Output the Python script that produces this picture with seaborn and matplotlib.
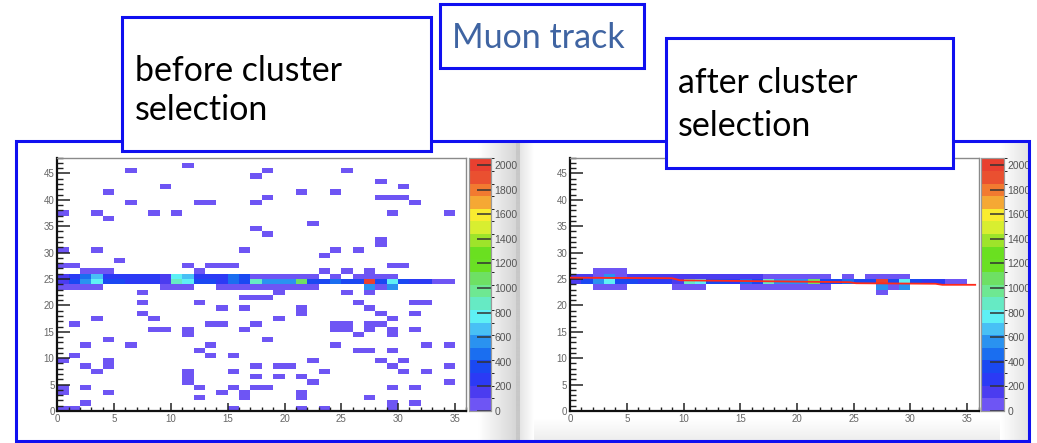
import numpy as np
import pandas as pd
import matplotlib
matplotlib.use("Agg")
import matplotlib.pyplot as plt
import seaborn as sns
from matplotlib.colors import ListedColormap, BoundaryNorm
from matplotlib.patches import Rectangle

# ---------------- data ----------------
NX, NY = 36, 48
ZMAX = 2055
X_TICKS = [0, 5, 10, 15, 20, 25, 30, 35]
Y_TICKS = [0, 5, 10, 15, 20, 25, 30, 35, 40, 45]
Z_TICKS = [0, 200, 400, 600, 800, 1000, 1200, 1400, 1600, 1800, 2000]

LEFT_NOISE_X = [6, 11, 17, 18, 4, 9, 6, 12, 13, 17, 18, 0, 3, 4, 8, 10, 17, 18, 0, 3, 16, 5, 0, 1, 11, 13, 14, 15, 2, 3, 4, 12,
                25, 28, 30, 21, 24, 28, 29, 30, 31, 22, 29, 34, 28, 28, 24, 26, 23, 29, 30, 23, 25, 27,
                7, 19, 25, 27,
                7, 7, 8, 8, 9, 11, 11, 12, 14, 16, 16, 17, 18, 13, 14, 16, 17, 1, 3, 4, 2, 6, 1, 0, 4, 4, 2, 3, 0, 0, 2, 4, 2, 0, 1,
                11, 11, 11, 12, 13, 13, 15, 12, 12, 14, 15, 16, 16, 15, 17, 17, 17, 15, 18,
                26, 27, 28, 31, 32, 31, 21, 21, 19, 29, 24, 25, 24, 25, 27, 28, 27, 26, 29, 29, 31, 24, 26, 27, 29, 32, 34,
                22, 28, 30, 19, 20, 29, 34, 23, 30, 32, 19, 21, 22, 34, 18, 29, 31, 21, 21, 27, 31, 21, 23, 29, 29]
LEFT_NOISE_Y = [45, 46, 44, 45, 41, 42, 39, 39, 39, 39, 40, 37, 37, 36, 37, 37, 34, 33, 30, 30, 30, 28, 27, 27, 27, 27, 27, 27, 26, 26, 26, 26,
                45, 43, 42, 41, 41, 40, 40, 40, 39, 35, 37, 37, 31, 32, 30, 30, 29, 27, 27, 26, 26, 26,
                22, 22, 22, 22,
                20, 18, 17, 15, 15, 15, 14, 20, 19, 19, 21, 21, 21, 16, 16, 15, 16, 16, 17, 13, 12, 12, 10, 9, 9, 8, 8, 7, 4, 3, 4, 3, 1, 0, 0,
                7, 6, 5, 11, 12, 10, 10, 4, 2, 3, 4, 3, 2, 7, 8, 6, 4, 0, 13,
                20, 19, 18, 20, 20, 18, 19, 18, 17, 17, 16, 16, 15, 15, 16, 16, 15, 14, 15, 14, 15, 12, 11, 11, 11, 12, 12,
                9, 9, 9, 8, 8, 8, 8, 7, 7, 7, 6, 6, 5, 5, 4, 4, 4, 3, 2, 2, 1, 0, 0, 1, 0]
NOISE_CHARGE = 50

# track row (y bin 24), shared by both pictures
ROW24 = [150, 350, 560, 750, 330, 320, 250, 260, 240, 180, 850, 760, 340, 350, 280, 450, 380, 860,
         580, 560, 570, 1050, 400, 380, 430, 390, 370, 2050, 400, 780, 380, 270, 260, 80, 80, 0]
LEFT_ROW25 = [120, 250, 500, 700, 300, 300, 220, 220, 220, 160, 780, 700, 300, 300, 250, 420, 350, 60,
              60, 60, 60, 60, 60, 0, 60, 0, 60, 60, 60, 60, 0, 0, 0, 0, 0, 0]
LEFT_ROW23 = [60, 60, 60, 60, 0, 0, 0, 0, 0, 60, 60, 60, 0, 0, 60, 60, 60, 60,
              60, 60, 60, 60, 60, 0, 0, 0, 0, 560, 60, 600, 0, 0, 0, 0, 0, 0]
RIGHT_ROW26 = [0, 0, 60, 60, 60, 0, 0, 0, 0, 0, 0, 0, 0, 0, 0, 0, 0, 0,
               0, 0, 0, 0, 0, 0, 0, 0, 0, 0, 0, 0, 0, 0, 0, 0, 0, 0]
RIGHT_ROW25 = [150, 150, 60, 600, 60, 150, 150, 150, 150, 150, 150, 150, 150, 150, 150, 150, 150, 60,
               60, 60, 60, 60, 60, 0, 60, 0, 60, 60, 60, 60, 0, 0, 0, 0, 0, 0]
RIGHT_ROW23 = [0, 0, 60, 60, 60, 0, 0, 0, 0, 60, 60, 60, 0, 0, 0, 60, 60, 60,
               60, 60, 60, 60, 60, 0, 0, 0, 0, 560, 60, 600, 0, 0, 0, 0, 0, 0]
RIGHT_ROW22 = [0, 0, 0, 0, 0, 0, 0, 0, 0, 0, 0, 0, 0, 0, 0, 0, 0, 0,
               0, 0, 0, 0, 0, 0, 0, 0, 0, 60, 0, 0, 0, 0, 0, 0, 0, 0]

# fitted track (red line)
FIT_X = [0, 9.0, 9.7, 24.6, 25.2, 32.2, 32.8, 35.7]
FIT_Y = [25.25, 25.15, 24.75, 24.4, 24.2, 24.1, 23.9, 23.9]

PALETTE = ['#6e55f4', '#4b3cf0', '#2b3af5', '#1a48f2', '#1a6ef0', '#2a92f0', '#48c0f5', '#5ef0f5',
           '#66eac4', '#6ee892', '#6ee064', '#6ae024', '#6ae020', '#9ee42a', '#d8ee30', '#f9ec30',
           '#f5a834', '#f27a30', '#ea5030', '#e84030']

# ---------------- figure ----------------
W, H = 1037, 443
fig = plt.figure(figsize=(W / 100, H / 100), dpi=100)
fig.patch.set_facecolor('white')


def fax(x0, y0, x1, y1):
    return [x0 / W, 1 - y1 / H, (x1 - x0) / W, (y1 - y0) / H]


# background gradients (screenshot panels)
bg = fig.add_axes([0, 0, 1, 1], zorder=0)
bg.set_xlim(0, W)
bg.set_ylim(H, 0)
bg.axis('off')


def hgrad(x0, x1, y0, y1, v0, v1):
    g = np.linspace(v0, v1, 64)[None, :]
    bg.imshow(g, extent=(x0, x1, y1, y0), cmap='gray', vmin=0, vmax=255, aspect='auto', interpolation='bilinear')


def vgrad(x0, x1, y0, y1, v0, v1):
    g = np.linspace(v0, v1, 64)[:, None]
    bg.imshow(g, extent=(x0, x1, y1, y0), cmap='gray', vmin=0, vmax=255, aspect='auto', interpolation='bilinear')


hgrad(478, 516, 141, 442, 255, 214)
hgrad(516, 520, 141, 442, 200, 200)
hgrad(520, 534, 141, 442, 228, 255)
hgrad(1000, 1029, 141, 442, 255, 226)
vgrad(534, 1000, 418, 442, 255, 236)
bg.set_xlim(0, W)
bg.set_ylim(H, 0)

cmap = ListedColormap(PALETTE)
norm = BoundaryNorm(np.linspace(0, ZMAX, 21), cmap.N)


def build(rows, noise=None):
    m = np.full((NY, NX), np.nan)
    if noise is not None:
        for x, y in zip(*noise):
            m[y, x] = NOISE_CHARGE
    for yrow, vals in rows.items():
        for x, v in enumerate(vals):
            if v > 0:
                m[yrow, x] = v
    return pd.DataFrame(m, index=range(NY), columns=range(NX))


left_df = build({23: LEFT_ROW23, 24: ROW24, 25: LEFT_ROW25}, (LEFT_NOISE_X, LEFT_NOISE_Y))
right_df = build({22: RIGHT_ROW22, 23: RIGHT_ROW23, 24: ROW24, 25: RIGHT_ROW25, 26: RIGHT_ROW26})

panels = [
    (left_df, fax(57.3, 411 - 48 * 5.28, 57.3 + 36 * 11.36, 411), fax(468.5, 158.3, 491.5, 411), False),
    (right_df, fax(570, 411 - 48 * 5.28, 570 + 36 * 11.35, 411), fax(981, 158.3, 1004.5, 411), True),
]

for df, apos, cpos, fit in panels:
    ax = fig.add_axes(apos, zorder=2)
    cax = fig.add_axes(cpos, zorder=2)
    sns.heatmap(df, mask=df.isna(), cmap=cmap, norm=norm, ax=ax, cbar_ax=cax,
                xticklabels=False, yticklabels=False, linewidths=0,
                cbar_kws={'ticks': Z_TICKS})
    ax.invert_yaxis()
    ax.set_xlim(0, NX)
    ax.set_ylim(0, NY)
    ax.set_facecolor('white')
    if fit:
        ax.plot(FIT_X, FIT_Y, color='#ff2a1a', lw=1.3, zorder=5)
    for s in ['left', 'bottom']:
        ax.spines[s].set_visible(True)
        ax.spines[s].set_color('#111111')
        ax.spines[s].set_linewidth(1.6)
    for s in ['top', 'right']:
        ax.spines[s].set_visible(True)
        ax.spines[s].set_color('#8a8a8a')
        ax.spines[s].set_linewidth(1.0)
    ax.set_xticks(X_TICKS)
    ax.set_xticklabels([str(v) for v in X_TICKS])
    ax.set_yticks(Y_TICKS)
    ax.set_yticklabels([str(v) for v in Y_TICKS], rotation=0)
    ax.set_xticks(np.arange(0, NX + 1, 1), minor=True)
    ax.set_yticks(np.arange(0, NY + 1, 1), minor=True)
    ax.tick_params(axis='x', which='major', direction='in', length=5.5, width=1.1, color='#222222',
                   labelsize=7, labelcolor='#666666', pad=2, top=False)
    ax.tick_params(axis='x', which='minor', direction='in', length=3, width=1.0, color='#222222', top=False)
    ax.tick_params(axis='y', which='major', direction='in', length=9, width=1.1, color='#222222',
                   labelsize=7, labelcolor='#666666', pad=2, right=False)
    ax.tick_params(axis='y', which='minor', direction='in', length=4.5, width=1.0, color='#222222', right=False)
    for lab in ax.get_xticklabels() + ax.get_yticklabels():
        lab.set_family('Liberation Sans')
    ax.set_xlabel('')
    ax.set_ylabel('')

    cax.tick_params(direction='in', length=10, width=1.1, color='#333333', labelsize=7.5,
                    labelcolor='#555555', pad=2)
    for lab in cax.get_yticklabels():
        lab.set_family('Liberation Sans')
    cb = cax.collections[0].colorbar if hasattr(cax.collections[0], 'colorbar') else None
    for sp in cax.spines.values():
        sp.set_visible(True)
        sp.set_color('#999999')
        sp.set_linewidth(0.8)

# ---------------- overlay: frames and text boxes ----------------
ov = fig.add_axes([0, 0, 1, 1], zorder=10)
ov.set_xlim(0, W)
ov.set_ylim(H, 0)
ov.axis('off')
ov.patch.set_alpha(0)

BLUE = '#1010f0'
ov.add_patch(Rectangle((15.5, 141), 1013, 300.5, fill=False, ec=BLUE, lw=2.2))
boxes = [(122, 17, 431, 151), (440, 4, 644, 68), (666, 38, 953, 168)]
for x0, y0, x1, y1 in boxes:
    ov.add_patch(Rectangle((x0, y0), x1 - x0, y1 - y0, fc='white', ec=BLUE, lw=2.2, zorder=3))

FONT = ['Lato', 'DejaVu Sans']
texts = [
    ("before cluster", 135, 81, 208, 'black'),
    ("selection", 135, 120, 134, 'black'),
    ("Muon track", 452, 48, 173, '#3f64a2'),
    ("after cluster", 678, 93, 180, 'black'),
    ("selection", 678, 136, 134, 'black'),
]
fig.canvas.draw()
renderer = fig.canvas.get_renderer()
for s, x, y, tw, col in texts:
    t = ov.text(x, y, s, fontsize=20, color=col, family=FONT, ha='left', va='baseline', zorder=5)
    w = t.get_window_extent(renderer).width
    t.set_fontsize(20 * tw / w)

fig.savefig('out.png', dpi=100)
